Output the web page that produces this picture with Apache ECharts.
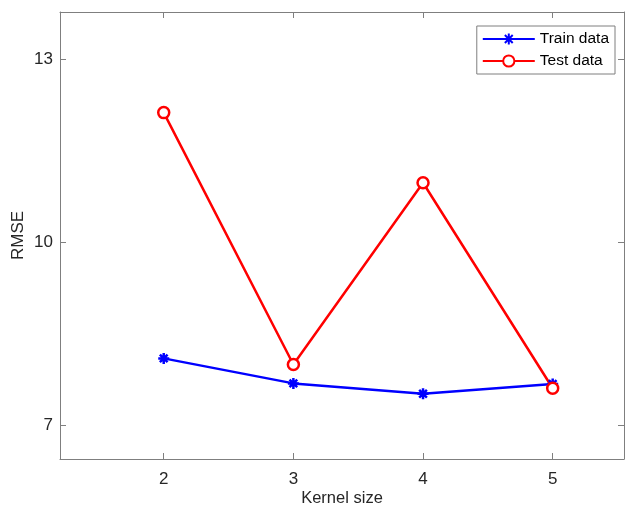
<!DOCTYPE html>
<html><head><meta charset="utf-8">
<script src="https://cdn.jsdelivr.net/npm/echarts@6/dist/echarts.min.js"></script>
<style>html,body{margin:0;padding:0;background:#fff}#c{width:625px;height:514px}</style>
</head><body><div id="c"></div>
<script>
var kernelSizes = [2, 3, 4, 5];
var trainData = [8.09, 7.68, 7.51, 7.67];
var testData = [12.12, 7.99, 10.97, 7.60];
var yTicks = [7, 10, 13];

var chart = echarts.init(document.getElementById('c'), null, {renderer: 'canvas'});
var axisColor = '#7f7f7f';
var textColor = '#262626';
var font = 'Liberation Sans, Arial, sans-serif';
var star = 'path://M0,5 L10,5 M5,0 L5,10 M1.5,1.5 L8.5,8.5 M8.5,1.5 L1.5,8.5';
function pairs(v){ return kernelSizes.map(function(k,i){ return [k, v[i]]; }); }
var xBase = {type:'value', min:1.2, max:5.55,
  axisLine:{show:true, lineStyle:{color:axisColor, width:1}},
  axisTick:{show:true, inside:true, length:6, customValues:kernelSizes, lineStyle:{color:axisColor}},
  splitLine:{show:false}};
var yBase = {type:'value', min:6.44, max:13.77,
  axisLine:{show:true, lineStyle:{color:axisColor, width:1}},
  axisTick:{show:true, inside:true, length:6, customValues:yTicks, lineStyle:{color:axisColor}},
  splitLine:{show:false}};
chart.setOption({
  animation:false,
  backgroundColor:'#fff',
  grid:{left:60, right:1, top:12, bottom:55, containLabel:false, outerBoundsMode:'none'},
  legend:{
    right:10, top:26, orient:'vertical', itemGap:6,
    borderColor:'#7f7f7f', borderWidth:1, padding:[5,6,5,5],
    itemWidth:52, itemHeight:14, itemTextGap:4,
    textStyle:{fontFamily:font, fontSize:15.5, color:'#000'},
    data:['Train data','Test data']
  },
  xAxis:[
    Object.assign({}, xBase, {position:'bottom', name:'Kernel size', nameLocation:'middle', nameGap:31, nameMoveOverlap:false,
      nameTextStyle:{fontFamily:font, fontSize:16.5, color:textColor},
      axisLabel:{show:true, customValues:kernelSizes, fontFamily:font, fontSize:17, color:textColor, margin:12}}),
    Object.assign({}, xBase, {position:'top', axisLabel:{show:false}})
  ],
  yAxis:[
    Object.assign({}, yBase, {position:'left', name:'RMSE', nameLocation:'middle', nameGap:33, nameMoveOverlap:false,
      nameTextStyle:{fontFamily:font, fontSize:17, color:textColor},
      axisLabel:{show:true, customValues:yTicks, fontFamily:font, fontSize:17, color:textColor, margin:7}}),
    Object.assign({}, yBase, {position:'right', axisLabel:{show:false}})
  ],
  series:[
    {name:'Train data', type:'line', data:pairs(trainData), color:'#0000ff',
     lineStyle:{color:'#0000ff', width:2.5},
     symbol:star, symbolSize:11,
     itemStyle:{color:'#0000ff', borderColor:'#0000ff', borderWidth:2.5}},
    {name:'Test data', type:'line', data:pairs(testData), color:'#ff0000',
     lineStyle:{color:'#ff0000', width:2.5},
     symbol:'circle', symbolSize:11,
     itemStyle:{color:'#ffffff', borderColor:'#ff0000', borderWidth:2.5}}
  ]
});
</script></body></html>
